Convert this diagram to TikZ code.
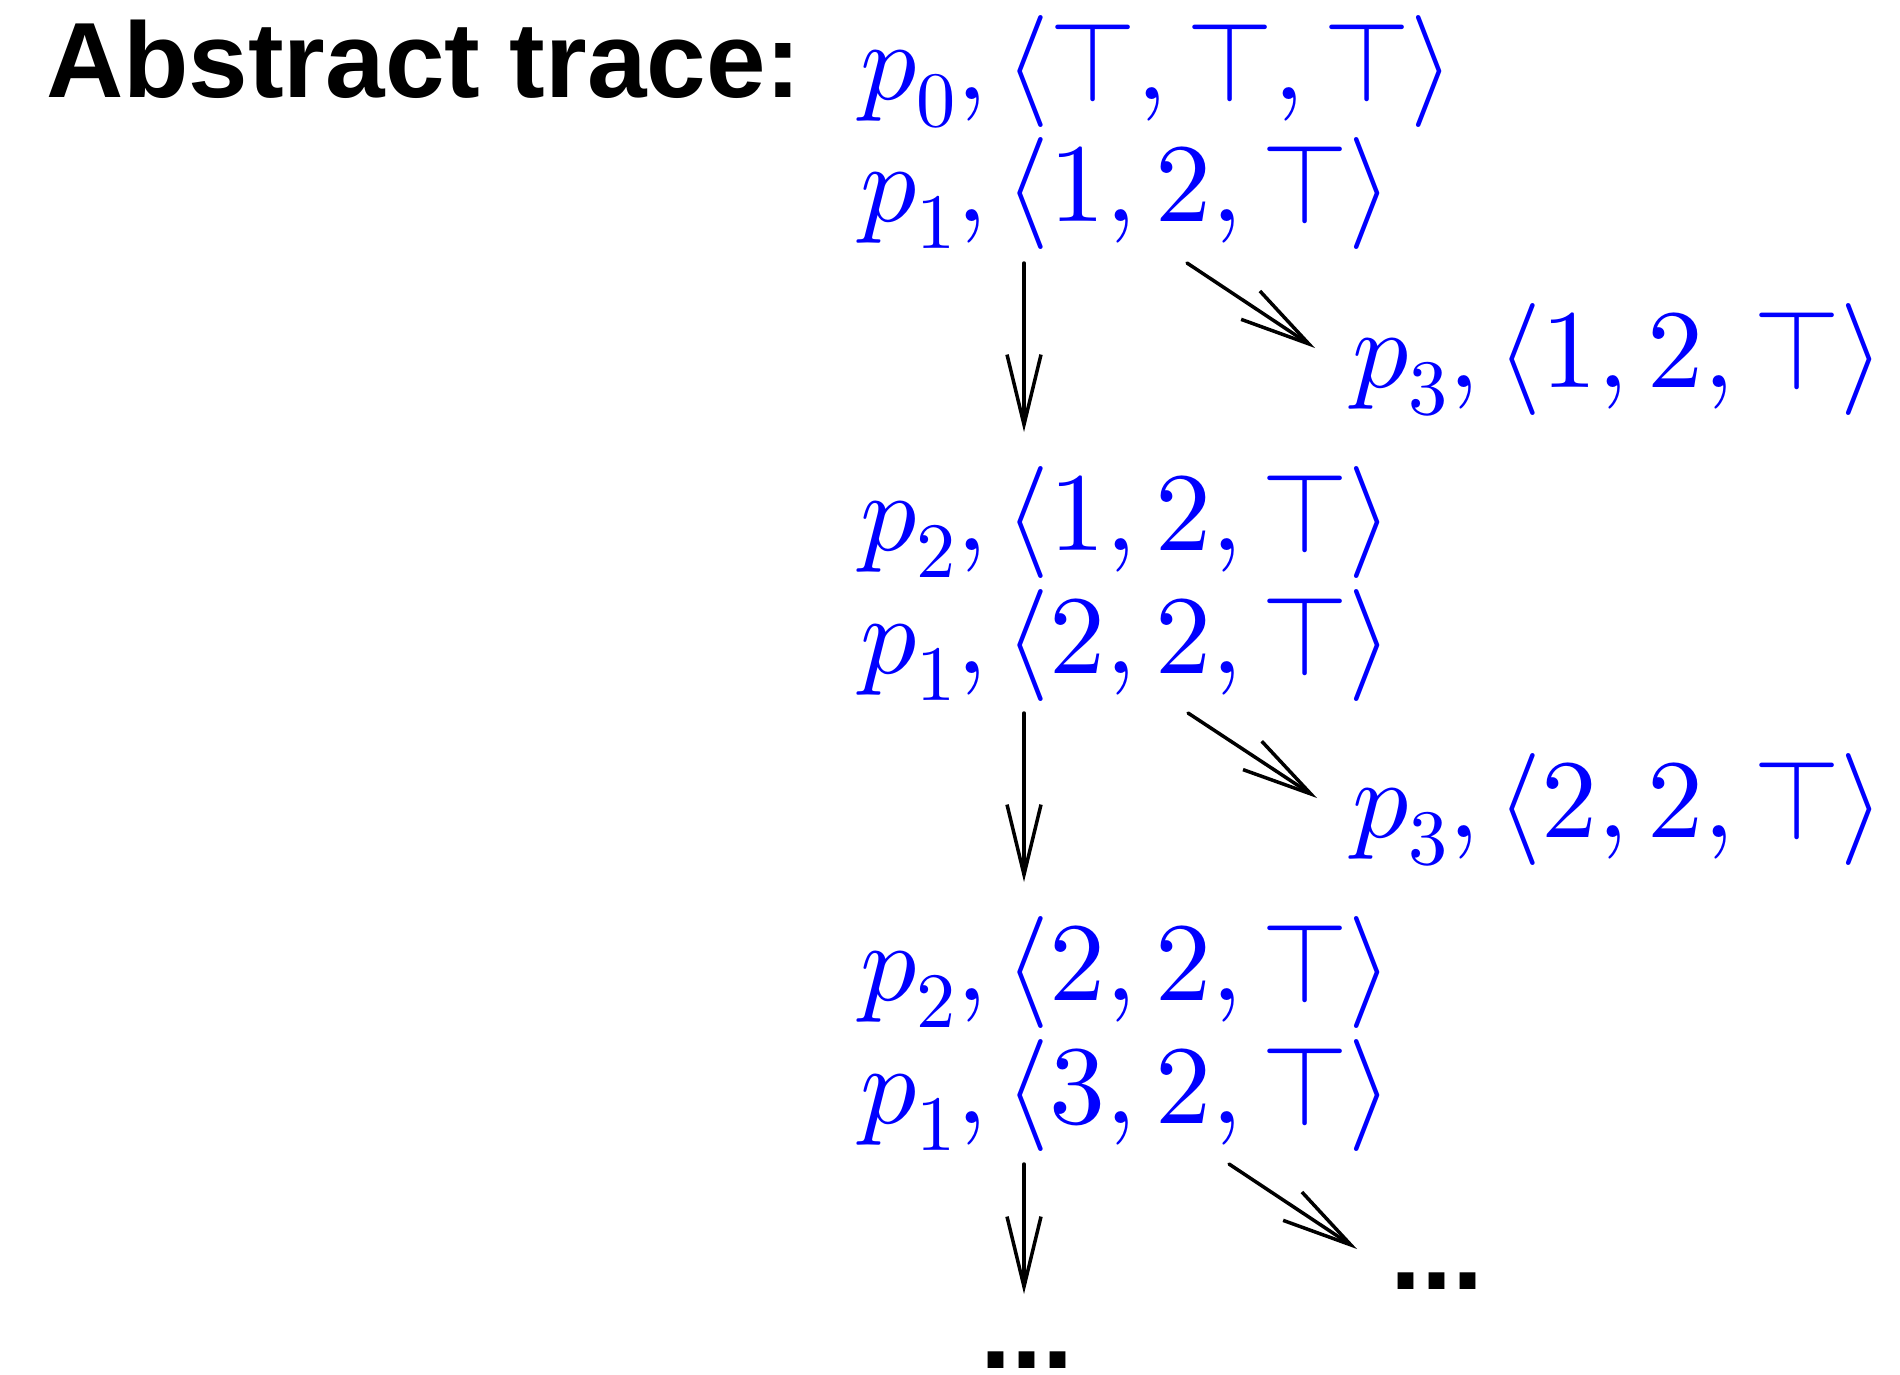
\documentclass[tikz,border=0pt]{standalone}
\usepackage{fontspec}
\usepackage{unicode-math}
\setmathfont{Latin Modern Math}
\setsansfont{Liberation Sans}
\usetikzlibrary{arrows.meta}
\begin{document}
\begin{tikzpicture}[x=1pt,y=-1pt,
  st/.style={anchor=base west, inner sep=0pt, text=blue, font=\fontsize{112}{114}\selectfont},
  ttl/.style={anchor=base west, inner sep=0pt, font=\sffamily\bfseries\fontsize{107}{110}\selectfont},
  dotsnode/.style={anchor=base, inner sep=0pt, font=\sffamily\bfseries\fontsize{112}{114}\selectfont},
  arr/.style={line width=3.5pt, line cap=round, -{Straight Barb[length=70pt,width=34pt]}}]
\useasboundingbox (0,0) rectangle (1900,1374);
\node[ttl] (title) at (46,97) {Abstract trace:};
\node[st] (s0) at (860,99) {$p_0, \langle\top,\top,\top\rangle$};
\node[st] (s1) at (860,221) {$p_1, \langle1,2,\top\rangle$};
\node[st] (s3a) at (1352,387) {$p_3, \langle1,2,\top\rangle$};
\node[st] (s2a) at (860,550) {$p_2, \langle1,2,\top\rangle$};
\node[st] (s1b) at (860,673) {$p_1, \langle2,2,\top\rangle$};
\node[st] (s3b) at (1352,837) {$p_3, \langle2,2,\top\rangle$};
\node[st] (s2b) at (860,1000) {$p_2, \langle2,2,\top\rangle$};
\node[st] (s1c) at (860,1123) {$p_1, \langle3,2,\top\rangle$};
\node[dotsnode] (d1) at (1437,1289) {...};
\node[dotsnode] (d2) at (1027,1368) {...};
\coordinate (a1s) at (1024,263); \coordinate (a1e) at (1024,432);
\coordinate (b1s) at (1187,263); \coordinate (b1e) at (1315,348);
\coordinate (a2s) at (1024,713); \coordinate (a2e) at (1024,882);
\coordinate (b2s) at (1188,713); \coordinate (b2e) at (1317,798);
\coordinate (a3s) at (1024,1164); \coordinate (a3e) at (1024,1294);
\coordinate (b3s) at (1229,1164); \coordinate (b3e) at (1357,1249);
\draw[arr] (a1s) -- (a1e);
\draw[arr] (b1s) -- (b1e);
\draw[arr] (a2s) -- (a2e);
\draw[arr] (b2s) -- (b2e);
\draw[arr] (a3s) -- (a3e);
\draw[arr] (b3s) -- (b3e);
\end{tikzpicture}
\end{document}
